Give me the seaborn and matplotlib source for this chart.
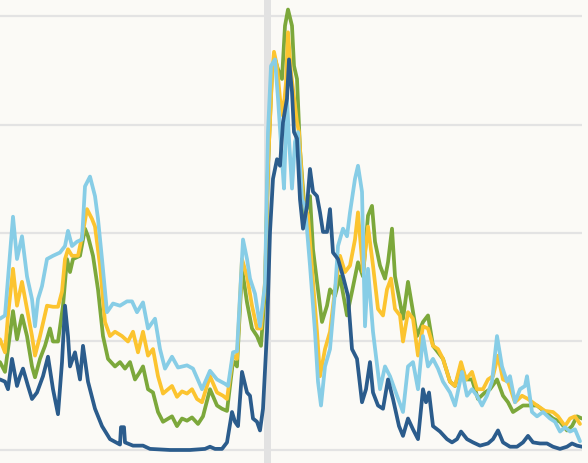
import pandas as pd
import seaborn as sns
import matplotlib.pyplot as plt

# x = time index, values per series
x_green = [0, 5, 8, 13, 17, 22, 27, 32, 35, 40, 45, 50, 53, 58, 63, 67, 70, 73, 80, 85, 88, 93, 98,
           103, 108, 115, 120, 125, 130, 135, 140, 143, 148, 153, 158, 163, 172, 177, 182, 187, 192,
           198, 203, 210, 217, 222, 227, 233, 237, 242, 247, 252, 257, 261, 265, 268, 272, 275, 278,
           282, 285, 288, 292, 294, 297, 300, 305, 310, 313, 317, 322, 327, 330, 335, 340, 347, 352,
           358, 363, 368, 372, 375, 380, 385, 388, 392, 395, 400, 403, 408, 412, 417, 423, 428, 433,
           438, 443, 450, 455, 461, 466, 472, 478, 485, 490, 497, 503, 508, 513, 518, 523, 530, 537,
           545, 553, 560, 567, 572, 577, 582]
y_green = [8.1, 7.2, 9.3, 12.8, 10.2, 12.4, 10.5, 7.7, 6.7, 8.4, 9.6, 11.2, 10.0, 10.0, 13.3, 17.6,
           16.4, 17.6, 17.9, 20.4, 19.7, 17.9, 14.8, 10.5, 8.4, 7.7, 8.1, 7.5, 8.1, 6.5, 7.2, 7.7,
           5.6, 5.3, 3.5, 2.6, 3.1, 2.2, 2.9, 2.7, 3.0, 2.4, 3.1, 5.6, 4.1, 3.8, 3.6, 8.2, 7.7, 16.7,
           13.6, 11.2, 10.5, 9.6, 14.8, 26.2, 34.8, 36.0, 35.1, 34.2, 39.1, 40.6, 39.1, 35.4, 34.2,
           27.7, 21.6, 23.4, 18.5, 15.5, 11.8, 13.3, 14.8, 14.2, 16.0, 12.4, 14.6, 17.3, 16.0, 21.6,
           22.5, 19.2, 17.0, 15.8, 17.3, 20.4, 16.0, 13.6, 12.1, 15.5, 13.3, 10.5, 11.8, 12.4, 9.6,
           9.0, 8.4, 6.3, 5.9, 7.7, 6.5, 6.5, 4.7, 5.3, 5.6, 6.5, 5.0, 4.4, 3.5, 3.8, 4.1, 4.1, 4.1,
           3.5, 2.9, 2.6, 1.8, 2.2, 3.1, 2.9]

x_yellow = [0, 5, 8, 13, 17, 22, 27, 32, 35, 40, 47, 53, 58, 62, 65, 68, 72, 78, 83, 87, 92, 95,
            100, 105, 110, 115, 122, 128, 133, 138, 143, 148, 153, 158, 163, 172, 177, 182, 187,
            192, 197, 202, 210, 217, 223, 227, 233, 237, 242, 247, 252, 257, 261, 265, 268, 272,
            274, 277, 280, 283, 286, 288, 291, 293, 297, 299, 303, 308, 313, 317, 320, 325, 330,
            335, 340, 345, 350, 355, 358, 363, 368, 373, 378, 383, 387, 391, 395, 400, 403, 408,
            413, 418, 423, 428, 433, 438, 443, 450, 455, 461, 466, 472, 477, 483, 488, 493, 498,
            503, 508, 515, 522, 528, 537, 545, 553, 558, 565, 570, 575, 580]
y_yellow = [10.2, 9.0, 12.4, 16.7, 13.3, 15.5, 13.0, 10.5, 8.7, 10.5, 13.3, 13.2, 13.2, 14.6, 17.6,
            18.5, 17.9, 17.9, 20.1, 22.2, 21.3, 20.6, 17.0, 11.8, 10.5, 10.9, 10.5, 10.0, 10.9, 9.0,
            10.9, 8.7, 9.3, 6.8, 5.2, 5.9, 4.9, 5.4, 5.2, 5.6, 4.7, 4.4, 6.8, 5.3, 5.0, 4.7, 8.7,
            8.4, 17.6, 16.0, 13.3, 11.2, 11.2, 15.5, 26.2, 34.5, 36.7, 35.4, 32.4, 30.8, 33.9, 38.5,
            34.8, 33.3, 30.2, 29.3, 23.1, 21.6, 15.5, 10.9, 6.8, 9.3, 10.9, 14.8, 17.9, 16.4, 17.0,
            19.4, 21.9, 16.4, 20.6, 17.0, 13.0, 12.4, 14.8, 15.8, 13.0, 12.4, 10.0, 12.7, 12.1, 8.7,
            11.4, 11.2, 9.6, 9.3, 8.4, 6.3, 5.9, 8.1, 6.5, 7.2, 5.6, 5.6, 6.5, 6.8, 8.7, 6.5, 6.3,
            4.4, 5.0, 4.7, 4.1, 3.6, 3.5, 3.1, 2.2, 2.9, 3.1, 2.4]

x_light = [0, 5, 13, 17, 22, 27, 32, 35, 38, 42, 47, 53, 60, 65, 68, 72, 77, 82, 85, 90, 95, 98,
           102, 107, 113, 120, 127, 132, 137, 143, 148, 155, 160, 165, 172, 178, 187, 193, 202, 210,
           217, 225, 228, 233, 237, 243, 247, 250, 255, 260, 265, 268, 271, 275, 278, 282, 284, 287,
           289, 292, 295, 298, 302, 305, 310, 315, 318, 321, 325, 330, 335, 338, 343, 347, 350, 355,
           358, 362, 365, 368, 373, 380, 385, 390, 397, 403, 408, 413, 418, 423, 428, 433, 438, 443,
           450, 455, 462, 467, 472, 477, 482, 487, 492, 497, 502, 507, 510, 515, 520, 525, 527, 532,
           537, 543, 550, 555, 560, 565, 570, 575, 580]
y_light = [12.1, 12.4, 21.5, 17.6, 19.7, 16.0, 13.9, 11.4, 13.9, 15.1, 17.6, 17.9, 18.2, 18.8, 20.2,
           18.8, 19.2, 19.4, 24.3, 25.2, 23.4, 21.3, 17.6, 12.7, 13.5, 13.3, 13.7, 13.7, 12.7, 13.6,
           11.2, 12.1, 9.3, 7.5, 8.6, 7.6, 7.8, 7.5, 5.6, 7.3, 6.5, 6.1, 5.9, 9.0, 9.1, 19.4, 17.6,
           15.8, 14.4, 11.4, 15.3, 29.3, 35.4, 36.0, 32.4, 26.8, 24.1, 32.4, 28.7, 24.1, 28.4, 29.3,
           23.1, 22.5, 17.0, 10.9, 6.3, 4.1, 7.7, 9.3, 14.6, 18.8, 20.4, 19.7, 21.9, 25.0, 26.2,
           23.8, 11.4, 16.7, 10.9, 5.6, 7.7, 6.8, 5.0, 3.5, 7.7, 8.1, 5.6, 10.5, 7.7, 8.4, 7.5, 6.3,
           5.3, 4.1, 7.2, 5.0, 5.6, 5.0, 4.1, 5.0, 6.3, 10.5, 7.7, 6.3, 6.8, 4.4, 5.6, 5.9, 6.8,
           3.5, 3.1, 3.5, 2.9, 2.6, 1.7, 2.1, 1.7, 1.9, 0.8]

x_dark = [0, 5, 8, 12, 17, 20, 23, 28, 32, 37, 43, 48, 53, 58, 62, 65, 68, 70, 75, 80, 83, 88, 95,
          102, 110, 118, 120, 121, 124, 125, 133, 143, 150, 170, 190, 205, 210, 215, 222, 227, 232,
          235, 238, 242, 247, 250, 253, 257, 260, 263, 267, 270, 273, 277, 280, 283, 287, 289, 292,
          294, 297, 300, 303, 307, 310, 313, 317, 320, 323, 327, 330, 333, 338, 343, 348, 352, 357,
          362, 366, 370, 373, 378, 383, 388, 393, 399, 403, 408, 413, 418, 423, 426, 429, 433, 440,
          447, 452, 457, 461, 467, 473, 480, 488, 493, 498, 503, 510, 517, 523, 528, 533, 540, 547,
          553, 560, 567, 572, 577, 582]
y_dark = [6.5, 6.3, 5.6, 8.4, 5.9, 6.8, 7.5, 5.9, 4.7, 5.3, 6.8, 8.6, 5.6, 3.3, 8.1, 13.3, 10.5,
          7.7, 9.0, 6.5, 9.6, 6.3, 3.8, 2.2, 1.0, 0.6, 0.5, 2.1, 2.1, 0.7, 0.4, 0.4, 0.1, 0.0, 0.0,
          0.1, 0.3, 0.1, 0.1, 0.7, 3.5, 2.6, 2.2, 7.2, 5.3, 5.0, 2.9, 2.6, 1.8, 3.8, 10.9, 20.1,
          25.0, 26.8, 26.2, 30.2, 32.4, 36.0, 33.0, 29.3, 28.7, 23.1, 20.4, 22.5, 25.9, 23.8, 23.4,
          21.9, 20.1, 20.1, 22.2, 18.2, 17.6, 16.0, 14.2, 9.3, 8.4, 4.4, 5.6, 8.1, 5.3, 4.1, 3.8,
          6.5, 4.7, 2.2, 1.3, 2.9, 1.9, 1.0, 5.6, 4.4, 5.3, 2.2, 1.7, 1.0, 0.7, 1.0, 1.7, 1.0, 0.7,
          0.4, 0.6, 1.0, 1.8, 0.7, 0.3, 0.3, 0.7, 1.3, 0.7, 0.6, 0.6, 0.3, 0.1, 0.3, 0.6, 0.4, 0.3]

series = ['green', 'yellow', 'light_blue', 'dark_blue']
colors = {'green': '#7ca83b', 'yellow': '#fcc42f', 'light_blue': '#87cde6', 'dark_blue': '#2b5c8c'}

df = pd.concat([
    pd.DataFrame({'t': x_green, 'value': y_green, 'serie': 'green'}),
    pd.DataFrame({'t': x_yellow, 'value': y_yellow, 'serie': 'yellow'}),
    pd.DataFrame({'t': x_light, 'value': y_light, 'serie': 'light_blue'}),
    pd.DataFrame({'t': x_dark, 'value': y_dark, 'serie': 'dark_blue'}),
], ignore_index=True)

bg = '#fbfaf6'
sns.set_theme(style='whitegrid', rc={'axes.facecolor': bg, 'figure.facecolor': bg,
                                     'grid.color': '#e3e3e3', 'grid.linewidth': 1.6,
                                     'lines.solid_joinstyle': 'round',
                                     'lines.solid_capstyle': 'round'})

fig = plt.figure(figsize=(5.88, 4.64), dpi=100)
ax = fig.add_axes([0, 0, 582 / 588, 1])

# grey marker band
ax.axvspan(264, 271, color='#e2e2e2', lw=0, zorder=1)

sns.lineplot(data=df, x='t', y='value', hue='serie', hue_order=series, palette=colors,
             estimator=None, sort=False, linewidth=2.7, legend=False, ax=ax, zorder=3)

ax.set_xlim(0, 582)
ax.set_ylim(-1.2, 41.57)
ax.set_yticks([0, 10, 20, 30, 40])
ax.xaxis.grid(False)
ax.set_xticks([])
ax.set_yticklabels([])
ax.set_xlabel('')
ax.set_ylabel('')
ax.tick_params(length=0)
for s in ax.spines.values():
    s.set_visible(False)

plt.savefig('out.png', dpi=100, facecolor=bg)
